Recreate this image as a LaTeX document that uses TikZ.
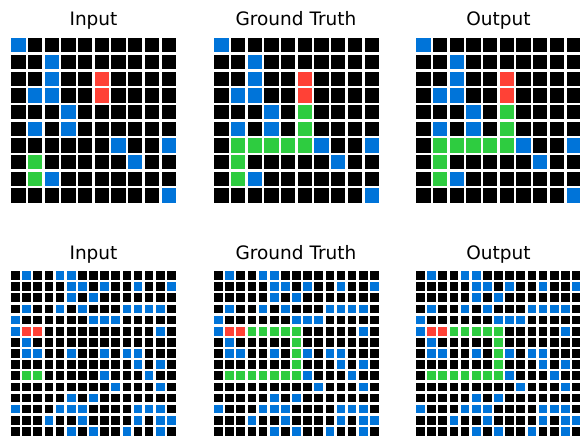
\documentclass[tikz,border=0pt]{standalone}
\usepackage{fontspec}
\setmainfont{DejaVu Sans}
\definecolor{arcblue}{HTML}{0074D9}
\definecolor{arcred}{HTML}{FF4136}
\definecolor{arcgreen}{HTML}{2ECC40}
\tikzset{title/.style={anchor=base,font=\fontsize{18.5}{22}\selectfont,inner sep=0pt}}
% cells as col/row
\def\bluesS{0/0,2/1,2/2,1/3,2/3,3/4,1/5,3/5,6/6,9/6,7/7,2/8,9/9}
\def\redsS{5/2,5/3}
\def\greensS{1/7,1/8}
\def\pathS{5/4,5/5,1/6,2/6,3/6,4/6,5/6}
\def\bluesL{1/0,4/0,5/0,5/1,6/1,8/1,11/1,14/1,5/2,7/2,1/3,4/3,6/3,10/3,11/3,12/3,13/3,%
0/4,7/4,8/4,9/4,0/5,13/5,1/6,1/7,2/7,5/7,8/7,10/7,11/7,11/8,13/8,8/9,12/9,9/10,13/10,%
5/11,7/11,0/12,4/12,5/12,6/12,11/12,12/12,13/12,3/13,6/13,11/13,13/13,14/13,5/14,7/14,10/14,13/14}
\def\redsL{1/5,2/5}
\def\greensL{1/9,2/9}
\def\pathL{3/5,4/5,5/5,6/5,7/5,7/6,7/7,7/8,3/9,4/9,5/9,6/9,7/9}
% #1 x0, #2 y0, #3 n, #4 pitch
\newcommand{\blackgrid}[4]{%
  \foreach \c in {1,...,#3}{
    \foreach \r in {1,...,#3}{
      \fill ({#1+(\c-1)*#4+1.2},{#2+(\r-1)*#4+1.2}) rectangle ++({#4-2.4},{#4-2.4});
    }
  }
}
% #1 x0, #2 y0, #3 pitch, #4 colour, #5 list
\newcommand{\paint}[5]{%
  \foreach \c/\r in #5{
    \fill[#4] ({#1+\c*#3+1.2},{#2+\r*#3+1.2}) rectangle ++({#3-2.4},{#3-2.4});
  }
}
\begin{document}
\begin{tikzpicture}[x=1pt,y=-1pt]
  \useasboundingbox (0,0) rectangle (580,438);
  \clip (0,0) rectangle (580,438);
  % top row, 10x10
  \node[title] (inS) at (93.5,25.5) {Input};
  \node[title] (gtS) at (296,25.5) {Ground Truth};
  \node[title] (outS) at (498.5,25.5) {Output};
  \foreach \x in {10,213,415}{
    \blackgrid{\x}{37}{10}{16.7}
    \paint{\x}{37}{16.7}{arcblue}{\bluesS}
    \paint{\x}{37}{16.7}{arcred}{\redsS}
    \paint{\x}{37}{16.7}{arcgreen}{\greensS}
  }
  \foreach \x in {213,415}{
    \paint{\x}{37}{16.7}{arcgreen}{\pathS}
  }
  % bottom row, 15x15
  \node[title] (inL) at (93.5,259.5) {Input};
  \node[title] (gtL) at (296,259.5) {Ground Truth};
  \node[title] (outL) at (498.5,259.5) {Output};
  \foreach \x in {10,213,415}{
    \blackgrid{\x}{270}{15}{11.13}
    \paint{\x}{270}{11.13}{arcblue}{\bluesL}
    \paint{\x}{270}{11.13}{arcred}{\redsL}
    \paint{\x}{270}{11.13}{arcgreen}{\greensL}
  }
  \foreach \x in {213,415}{
    \paint{\x}{270}{11.13}{arcgreen}{\pathL}
  }
\end{tikzpicture}
\end{document}
